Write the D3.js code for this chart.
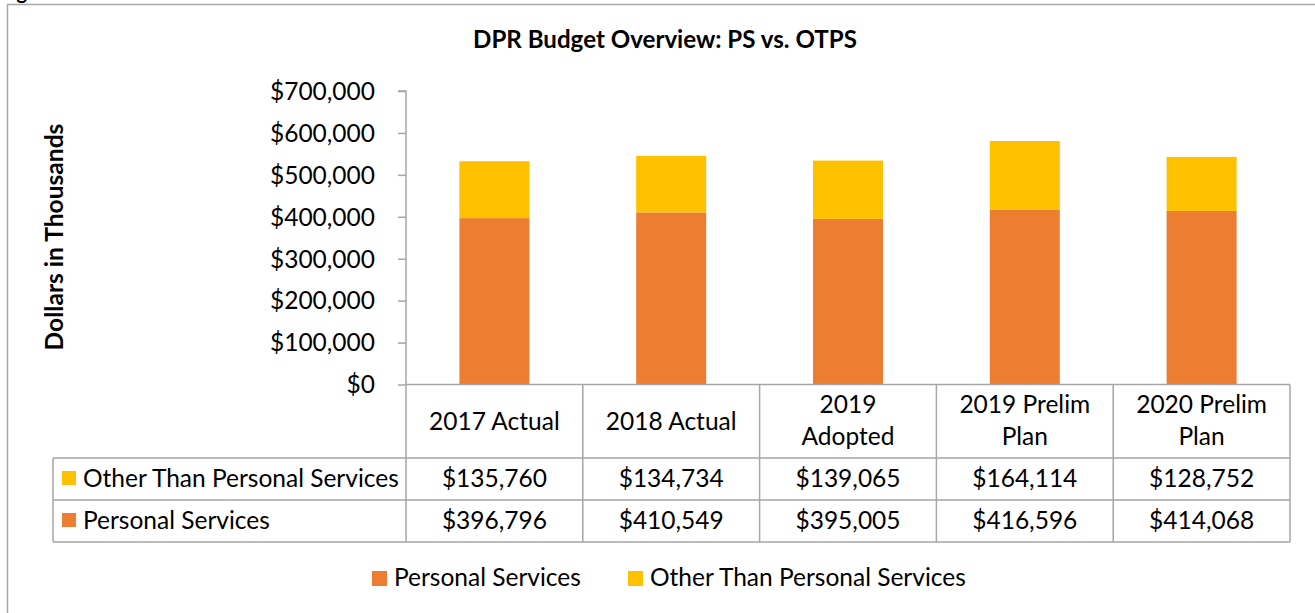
<!DOCTYPE html>
<html>
<head>
<meta charset="utf-8">
<script src="https://cdn.jsdelivr.net/npm/d3@7"></script>
<style>
  html, body { margin: 0; padding: 0; background: #fff; }
  svg { display: block; }
</style>
</head>
<body>
<script>
// ---- Data ----
const categories = [["2017 Actual"], ["2018 Actual"], ["2019", "Adopted"], ["2019 Prelim", "Plan"], ["2020 Prelim", "Plan"]];
const seriesNames = ["Personal Services", "Other Than Personal Services"];
const psValues = [396796, 410549, 395005, 416596, 414068];
const otpsValues = [135760, 134734, 139065, 164114, 128752];
const yTicks = [0, 100000, 200000, 300000, 400000, 500000, 600000, 700000];
const chartTitle = "DPR Budget Overview: PS vs. OTPS";
const yTitle = "Dollars in Thousands";

const colors = { ps: "#ED7D31", otps: "#FFC000" };
const FONT = "Lato, 'Open Sans', sans-serif";
const gridColor = "#a6a6a6";

const W = 1315, H = 613;
const svg = d3.select("body").append("svg").attr("width", W).attr("height", H);

// fit a font size so sample text spans target width
function fitSize(sample, target, weight) {
  const t = svg.append("text").attr("font-family", FONT).attr("font-weight", weight || "normal")
    .attr("font-size", 100).text(sample);
  const len = t.node().getComputedTextLength();
  t.remove();
  return 100 * target / len;
}
const bodySize = fitSize("Other Than Personal Services", 316);
const titleSize = fitSize(chartTitle, 384, "bold");
const yTitleSize = fitSize(yTitle, 227, "bold");

// outer frame
svg.append("rect").attr("x", 7.5).attr("y", 4.5).attr("width", W + 20).attr("height", H + 20)
  .attr("fill", "#fff").attr("stroke", gridColor).attr("stroke-width", 1.5);

// cut-off caption fragment above the frame
svg.append("text").attr("x", 0).attr("y", -1).attr("font-family", FONT).attr("font-weight", "bold")
  .attr("font-size", 20).text("Figure");

// title
svg.append("text").attr("x", 665).attr("y", 48).attr("text-anchor", "middle")
  .attr("font-family", FONT).attr("font-weight", "bold").attr("font-size", titleSize).text(chartTitle);

// y axis title
svg.append("text").attr("transform", "translate(63,237) rotate(-90)").attr("text-anchor", "middle")
  .attr("font-family", FONT).attr("font-weight", "bold").attr("font-size", yTitleSize).text(yTitle);

// scales
const plotLeft = 406, plotRight = 1290, plotTop = 91, plotBottom = 384.5;
const x = d3.scaleBand().domain(categories.map(d => d.join(" "))).range([plotLeft, plotRight]).padding(0);
const y = d3.scaleLinear().domain([0, 700000]).range([plotBottom, plotTop]);
const barW = x.bandwidth() * 0.396;

// y axis
const yAxis = d3.axisLeft(y).tickValues(yTicks).tickFormat(d3.format("$,")).tickSize(8).tickPadding(23);
const gy = svg.append("g").attr("transform", `translate(${plotLeft},0)`).call(yAxis);
gy.select(".domain").attr("stroke", gridColor).attr("stroke-width", 1.5).attr("d", `M-8,${plotTop}H0V${plotBottom}`);
gy.selectAll(".tick line").attr("stroke", gridColor).attr("stroke-width", 1.5);
gy.selectAll(".tick text").attr("font-family", FONT).attr("font-size", bodySize).attr("fill", "#000").attr("dy", "0.34em");

// stacked bars
const stackData = categories.map((c, i) => ({ key: c.join(" "), ps: psValues[i], otps: otpsValues[i] }));
const stack = d3.stack().keys(["ps", "otps"])(stackData);
svg.append("g").selectAll("g").data(stack).join("g")
  .attr("fill", s => colors[s.key])
  .selectAll("rect").data(s => s).join("rect")
  .attr("x", d => x(d.data.key) + (x.bandwidth() - barW) / 2)
  .attr("width", barW)
  .attr("y", d => y(d[1]))
  .attr("height", d => y(d[0]) - y(d[1]));

// data table
const tableLeft = 53, headTop = 384.5, row1Top = 458, row2Top = 500, tableBottom = 542;
const tg = svg.append("g").attr("stroke", gridColor).attr("stroke-width", 1.5).attr("fill", "none");
// horizontal lines
tg.append("line").attr("x1", plotLeft).attr("x2", plotRight).attr("y1", headTop).attr("y2", headTop);
[row1Top, row2Top, tableBottom].forEach(yy =>
  tg.append("line").attr("x1", tableLeft).attr("x2", plotRight).attr("y1", yy).attr("y2", yy));
// vertical lines
tg.append("line").attr("x1", tableLeft).attr("x2", tableLeft).attr("y1", row1Top).attr("y2", tableBottom);
x.domain().forEach(k => tg.append("line").attr("x1", x(k)).attr("x2", x(k)).attr("y1", headTop).attr("y2", tableBottom));
tg.append("line").attr("x1", plotRight).attr("x2", plotRight).attr("y1", headTop).attr("y2", tableBottom);

// header labels
const hg = svg.append("g").attr("font-family", FONT).attr("font-size", bodySize).attr("text-anchor", "middle");
categories.forEach(c => {
  const cx = x(c.join(" ")) + x.bandwidth() / 2;
  if (c.length === 1) {
    hg.append("text").attr("x", cx).attr("y", 430).text(c[0]);
  } else {
    hg.append("text").attr("x", cx).attr("y", 413).text(c[0]);
    hg.append("text").attr("x", cx).attr("y", 445).text(c[1]);
  }
});

// rows
const fmt = d3.format("$,");
const rows = [
  { name: seriesNames[1], color: colors.otps, vals: otpsValues, base: 487 },
  { name: seriesNames[0], color: colors.ps, vals: psValues, base: 529 }
];
rows.forEach(r => {
  svg.append("rect").attr("x", 62).attr("y", r.base - 16).attr("width", 14).attr("height", 14).attr("fill", r.color);
  svg.append("text").attr("x", 83).attr("y", r.base).attr("font-family", FONT).attr("font-size", bodySize).text(r.name);
  r.vals.forEach((v, i) => {
    const k = categories[i].join(" ");
    svg.append("text").attr("x", x(k) + x.bandwidth() / 2).attr("y", r.base).attr("text-anchor", "middle")
      .attr("font-family", FONT).attr("font-size", bodySize).text(fmt(v));
  });
});

// legend
const legendItems = [
  { name: seriesNames[0], color: colors.ps, x: 372 },
  { name: seriesNames[1], color: colors.otps, x: 628 }
];
legendItems.forEach(l => {
  svg.append("rect").attr("x", l.x).attr("y", 571).attr("width", 15).attr("height", 15).attr("fill", l.color);
  svg.append("text").attr("x", l.x + 22).attr("y", 586).attr("font-family", FONT).attr("font-size", bodySize).text(l.name);
});
</script>
</body>
</html>
